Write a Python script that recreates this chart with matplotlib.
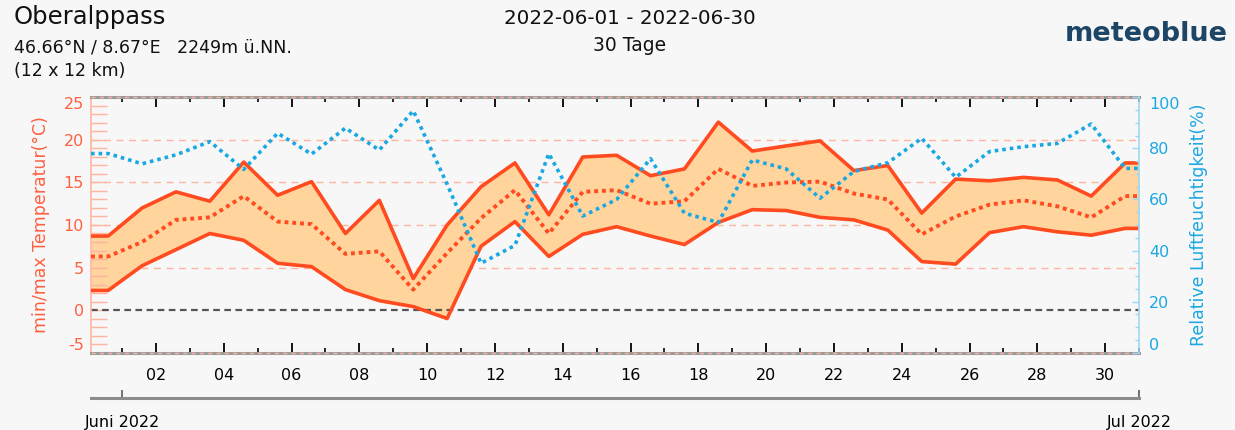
import numpy as np
import matplotlib.pyplot as plt
from matplotlib.ticker import MultipleLocator, FixedLocator

plt.rcParams["axes.unicode_minus"] = False

# daily values (31 points)
t_max = [8.7, 12.0, 13.9, 12.8, 17.4, 13.5, 15.1, 9.0, 12.9, 3.7, 10.0,
         14.5, 17.3, 11.2, 18.0, 18.2, 15.8, 16.6, 22.1, 18.7, 19.3,
         19.9, 16.4, 17.0, 11.4, 15.4, 15.2, 15.6, 15.3, 13.4, 17.3]
t_min = [2.3, 5.2, 7.1, 9.0, 8.2, 5.5, 5.1, 2.4, 1.1, 0.4, -1.0,
         7.5, 10.4, 6.3, 8.9, 9.8, 8.7, 7.7, 10.3, 11.8, 11.7,
         10.9, 10.6, 9.4, 5.7, 5.4, 9.1, 9.8, 9.2, 8.8, 9.6]
t_mean = [6.3, 8.0, 10.6, 10.9, 13.4, 10.4, 10.1, 6.6, 6.9, 2.4, 6.7,
          10.8, 14.1, 9.0, 13.9, 14.1, 12.5, 12.8, 16.6, 14.6, 15.0,
          15.1, 13.7, 13.0, 8.9, 11.0, 12.4, 12.9, 12.2, 10.9, 13.4]
humidity = [78, 74, 77.5, 82.7, 71.8, 86, 77.8, 88, 79.4, 94.8, 66,
            35, 42, 78, 53.5, 60, 76, 54.6, 51, 75.5, 72,
            60.5, 71, 74.4, 84, 68.7, 78.8, 80.7, 82, 89.6, 72.2]

major_days = list(range(2, 31, 2))
day_labels = ["%02d" % d for d in major_days]
month_ticks = [1, 31]
month_labels = ["Juni 2022", "Jul 2022"]

RED = "#ff4b1f"
LABEL_RED = "#ff6040"
FILL = "#ffd49d"
BLUE = "#1aa8e3"
SALMON = "#ffb4a0"
BG = "#f7f7f7"

X0, X1 = 0.085, 31.0


def extend(vals):
    xs = np.arange(len(vals)) + 0.59
    return np.r_[X0, xs, X1], np.r_[vals[0], vals, vals[-1]]


def nudge_end_labels(axis):
    # first/last labels are kept inside the frame like in the original
    labels = axis.get_ticklabels()
    labels[0].set_verticalalignment("bottom")
    labels[-1].set_verticalalignment("top")


fig = plt.figure(figsize=(12.35, 4.3), dpi=100, facecolor=BG)
ax = fig.add_axes([0.0737, 0.1802, 0.8486, 0.5931], facecolor=BG)

x, ymax = extend(t_max)
_, ymin = extend(t_min)
_, ymean = extend(t_mean)
ax.fill_between(x, ymin, ymax, color=FILL, lw=0, zorder=1)
ax.plot(x, ymax, color=RED, lw=2.6, zorder=3)
ax.plot(x, ymin, color=RED, lw=2.6, zorder=3)
ax.plot(x, ymean, color=RED, lw=2.8, ls=(0, (1, 1.0)), zorder=3)

for v in [5, 10, 15, 20]:
    ax.axhline(v, color=SALMON, lw=1, ls=(0, (5, 4)), zorder=0.5)
ax.axhline(0, color="#555555", lw=1.6, ls=(0, (3, 2)), zorder=2)

ax.set_xlim(X0, X1)
ax.set_ylim(-5, 25)

for s in ["top", "bottom"]:
    ax.spines[s].set_color("#9a9a9a")
    ax.spines[s].set_linewidth(2.2)
for v in [25, -5]:
    ax.axhline(v, color=SALMON, lw=1, ls=(0, (3, 3)), zorder=5, clip_on=False)
ax.spines["left"].set_color(SALMON)
ax.spines["left"].set_linewidth(1.2)
ax.spines["right"].set_visible(False)

ax.set_yticks(range(-5, 26, 5))
ax.yaxis.set_minor_locator(MultipleLocator(1))
ax.tick_params(axis="y", which="both", direction="in", length=11.5, width=1,
               color=SALMON, labelcolor=LABEL_RED, labelsize=11.5, pad=5)
nudge_end_labels(ax.yaxis)
ax.set_ylabel("min/max Temperatur(°C)", color=LABEL_RED, fontsize=12.5,
              labelpad=10)

ax.xaxis.set_major_locator(FixedLocator(major_days))
ax.set_xticklabels(day_labels)
ax.xaxis.set_minor_locator(FixedLocator(range(1, 32, 2)))
ax.tick_params(axis="x", which="major", direction="in", length=7, width=1.3,
               top=True, bottom=True, labelsize=11.5, pad=11, color="black")
ax.tick_params(axis="x", which="minor", direction="in", length=3.5, width=1.2,
               top=True, bottom=True, color="black")

ax2 = ax.twinx()
x, yh = extend(humidity)
ax2.plot(x, yh, color=BLUE, lw=2.6, ls=(0, (1, 1.1)), zorder=4)
ax2.set_ylim(0, 100)
ax2.set_xlim(X0, X1)
for s in ["top", "bottom", "left"]:
    ax2.spines[s].set_visible(False)
ax2.spines["right"].set_color("#9fd8f2")
ax2.spines["right"].set_linewidth(1.2)
ax2.set_yticks(range(0, 101, 20))
ax2.yaxis.set_minor_locator(MultipleLocator(5))
ax2.tick_params(axis="y", which="major", direction="in", length=5, width=1,
                color="#9fd8f2", labelcolor=BLUE, labelsize=11.5, pad=7)
ax2.tick_params(axis="y", which="minor", direction="in", length=3, width=1,
                color="#9fd8f2")
nudge_end_labels(ax2.yaxis)
ax2.set_ylabel("Relative Luftfeuchtigkeit(%)", color=BLUE, fontsize=12.5,
               labelpad=8)

# month axis below
sec = ax.secondary_xaxis(-0.178)
sec.set_xticks(month_ticks, labels=month_labels)
sec.tick_params(direction="in", length=6, width=1.3, pad=12, labelsize=11.5,
                color="#666666")
sec.spines["bottom"].set_color("#8c8c8c")
sec.spines["bottom"].set_linewidth(2.2)

# header
fig.text(14 / 1235, 1 - 5 / 430, "Oberalppass", fontsize=17.5, va="top",
         ha="left", color="#111111")
fig.text(14 / 1235, 1 - 38 / 430, "46.66°N / 8.67°E   2249m ü.NN.",
         fontsize=12.5, va="top", ha="left", color="#111111")
fig.text(14 / 1235, 1 - 62 / 430, "(12 x 12 km)", fontsize=12.5, va="top",
         ha="left", color="#111111")
fig.text(630 / 1235, 1 - 9 / 430, "2022-06-01 - 2022-06-30", fontsize=14.3,
         va="top", ha="center", color="#111111")
fig.text(630 / 1235, 1 - 36 / 430, "30 Tage", fontsize=13.5, va="top",
         ha="center", color="#111111")
fig.text(1065 / 1235, 1 - 34 / 430, "meteoblue", fontsize=19.5,
         fontweight="bold", va="center", ha="left", color="#1d4566")

fig.savefig("out.png", dpi=100, facecolor=BG)
